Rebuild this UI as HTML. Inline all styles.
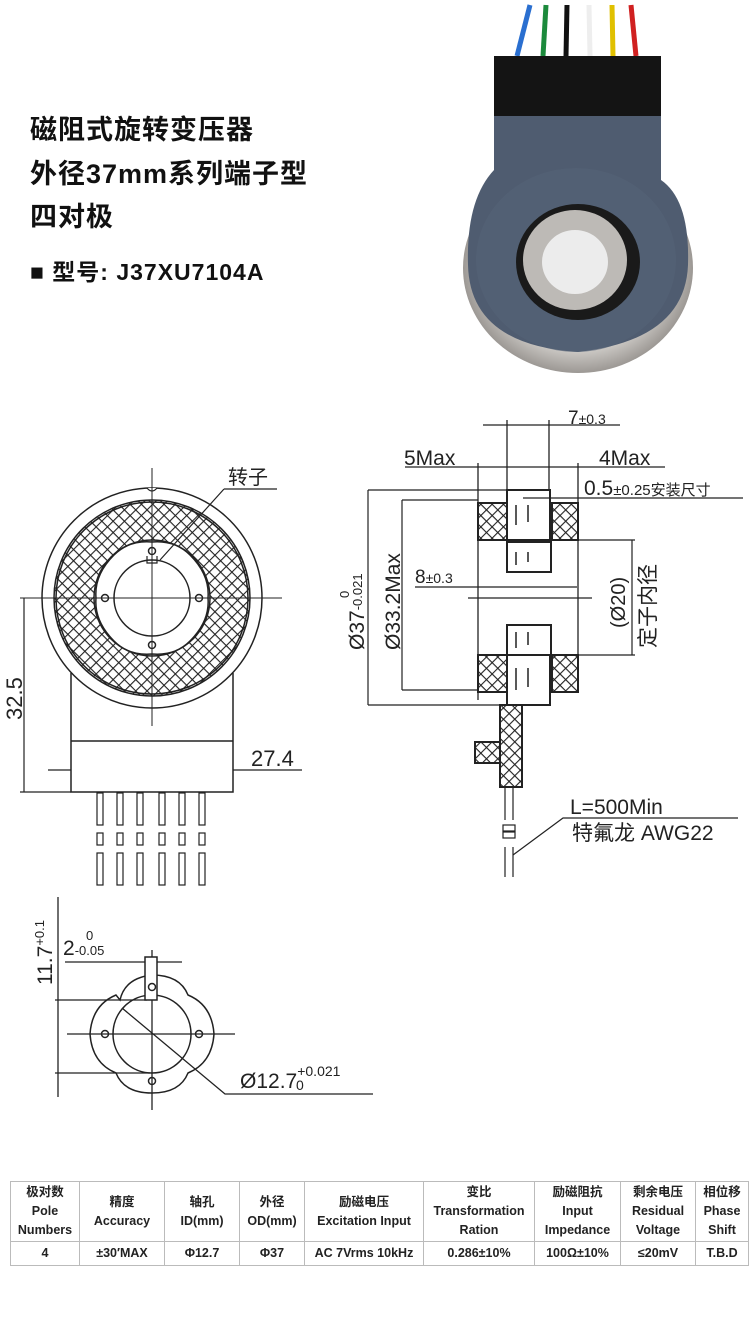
<!DOCTYPE html>
<html><head><meta charset="utf-8"><style>
html,body{margin:0;padding:0;background:#fff;}
body{width:750px;height:1332px;position:relative;overflow:hidden;font-family:"Liberation Sans","Noto Sans CJK SC",sans-serif;}
.h{position:absolute;left:30px;font-weight:bold;font-size:27px;color:#111;letter-spacing:1px;}
table{position:absolute;left:10px;top:1181px;border-collapse:collapse;font-size:12.5px;font-weight:bold;color:#222;text-align:center;}
td{border:1px solid #bbb;padding:0 2px;line-height:19px;}
</style></head><body>
<div class="h" style="top:108px">磁阻式旋转变压器</div>
<div class="h" style="top:152px">外径37mm系列端子型</div>
<div class="h" style="top:195px">四对极</div>
<div class="h" style="top:253px;font-size:23px">■ 型号: J37XU7104A</div>

<svg width="750" height="1332" style="position:absolute;left:0;top:0" xmlns="http://www.w3.org/2000/svg">
<defs>
<pattern id="hx" width="8" height="8" patternUnits="userSpaceOnUse" patternTransform="rotate(45)">
<rect width="8" height="8" fill="#fff"/><path d="M0 0H8M0 0V8" stroke="#222" stroke-width="2.2"/></pattern>
<radialGradient id="ring" cx="50%" cy="50%" r="50%"><stop offset="80%" stop-color="#c9c6c2"/><stop offset="100%" stop-color="#9c9894"/></radialGradient>
</defs>
<!-- photo -->
<g>
<path d="M517 56 L530 5" stroke="#2a6fd0" stroke-width="5"/>
<path d="M543 56 L546 5" stroke="#1c8a3c" stroke-width="5"/>
<path d="M566 56 L567 5" stroke="#111" stroke-width="5"/>
<path d="M590 56 L589 5" stroke="#eee" stroke-width="5"/>
<path d="M613 56 L612 5" stroke="#e0c000" stroke-width="5"/>
<path d="M636 56 L631 5" stroke="#d02020" stroke-width="5"/>
<ellipse cx="578" cy="268" rx="115" ry="105" fill="url(#ring)"/>
<path d="M494 115 L661 115 L661 180 Q690 200 688 265 Q685 340 578 352 Q470 345 468 265 Q466 200 494 170 Z" fill="#4f5c70"/>
<ellipse cx="576" cy="260" rx="100" ry="92" fill="#556276" opacity="0.6"/>
<rect x="494" y="56" width="167" height="60" fill="#141414"/>
<ellipse cx="578" cy="262" rx="62" ry="58" fill="#1a1a1a"/>
<ellipse cx="575" cy="260" rx="52" ry="50" fill="#bdbab6"/>
<ellipse cx="575" cy="262" rx="33" ry="32" fill="#ececec"/>
</g>

<g fill="none" stroke="#222" stroke-width="1.5" font-family="Liberation Sans, Noto Sans CJK SC, sans-serif">
<!-- left drawing -->
<circle cx="152" cy="598" r="110"/>
<circle cx="152" cy="598" r="78" stroke="url(#hx)" stroke-width="40"/>
<circle cx="152" cy="598" r="98"/>
<circle cx="152" cy="598" r="96"/>
<circle cx="152" cy="598" r="58"/>
<path d="M147 488 Q152 494 157 488" stroke-width="1.2" fill="#fff"/>
<path d="M152 542 Q175 540 190 555 Q210 575 208 598 Q210 621 190 641 Q175 656 152 654 Q129 656 114 641 Q94 621 96 598 Q94 575 114 555 Q129 540 152 542Z" fill="#fff"/>
<path d="M147 556V563H157V556" stroke-width="1.2"/>
<circle cx="152" cy="598" r="38"/>
<circle cx="105" cy="598" r="3.5"/><circle cx="199" cy="598" r="3.5"/>
<circle cx="152" cy="551" r="3.5"/><circle cx="152" cy="645" r="3.5"/>
<path d="M20 598H282M152 468V726" stroke-width="1"/>
<path d="M71 673V792H233V673M71 741H233" />
<path d="M48 770H71M233 770H302" stroke-width="1.2"/>
<path d="M24 598V792M20 792H71" stroke-width="1.2"/>
<path d="M224 489H277M224 489L160 560" stroke-width="1.2"/>
<text x="228" y="484" fill="#222" stroke="none" font-size="20">转子</text>
<text x="251" y="766" fill="#222" stroke="none" font-size="22">27.4</text>
<text transform="translate(22,720) rotate(-90)" fill="#222" stroke="none" font-size="22">32.5</text>
<g stroke-width="1.2">
<rect x="97" y="793" width="6" height="32"/><rect x="117" y="793" width="6" height="32"/><rect x="137" y="793" width="6" height="32"/><rect x="159" y="793" width="6" height="32"/><rect x="179" y="793" width="6" height="32"/><rect x="199" y="793" width="6" height="32"/>
<rect x="97" y="833" width="6" height="12"/><rect x="117" y="833" width="6" height="12"/><rect x="137" y="833" width="6" height="12"/><rect x="159" y="833" width="6" height="12"/><rect x="179" y="833" width="6" height="12"/><rect x="199" y="833" width="6" height="12"/>
<rect x="97" y="853" width="6" height="32"/><rect x="117" y="853" width="6" height="32"/><rect x="137" y="853" width="6" height="32"/><rect x="159" y="853" width="6" height="32"/><rect x="179" y="853" width="6" height="32"/><rect x="199" y="853" width="6" height="32"/>
</g>

<!-- right drawing -->
<rect x="478" y="503" width="29" height="37" fill="url(#hx)" stroke-width="2"/>
<rect x="552" y="503" width="26" height="37" fill="url(#hx)" stroke-width="2"/>
<rect x="478" y="655" width="29" height="37" fill="url(#hx)" stroke-width="2"/>
<rect x="552" y="655" width="26" height="37" fill="url(#hx)" stroke-width="2"/>
<rect x="507" y="490" width="43" height="50" stroke-width="2"/>
<rect x="507" y="542" width="44" height="30" stroke-width="2"/>
<rect x="507" y="625" width="44" height="30" stroke-width="2"/>
<rect x="507" y="655" width="43" height="50" stroke-width="2"/>
<path d="M516 505V525M528 505V522M516 552V565M528 552V562M516 632V648M528 632V645M516 668V690M528 668V687" stroke-width="1.5"/>
<path d="M478 463V700M578 463V692M507 420V490M549 420V490" stroke-width="1.3"/>
<path d="M483 425H620M405 467H665M523 498H743M368 490H507M368 705H507M402 500H478M402 690H478M415 587H577M468 598H592M578 540H635M578 655H635" stroke-width="1.2"/>
<path d="M368 490V705M402 500V690M632 540V655" stroke-width="1.2"/>
<path d="M500 705V787H522V705ZM475 742H500V763H475Z" fill="url(#hx)" stroke-width="2"/>
<path d="M505 788V820M513 788V820M505 847V877M513 847V877" stroke-width="1.2"/>
<rect x="503" y="825" width="12" height="6" stroke-width="1.2"/><rect x="503" y="832" width="12" height="6" stroke-width="1.2"/>
<path d="M738 818H563L513 855" stroke-width="1.2"/>
<g fill="#222" stroke="none">
<text x="568" y="424" font-size="19">7<tspan font-size="14">±0.3</tspan></text>
<text x="404" y="465" font-size="21">5Max</text>
<text x="599" y="465" font-size="21">4Max</text>
<text x="584" y="495" font-size="21">0.5<tspan font-size="15">±0.25安装尺寸</tspan></text>
<text x="415" y="583" font-size="19">8<tspan font-size="14">±0.3</tspan></text>
<text transform="translate(364,650) rotate(-90)" font-size="21">Ø37<tspan font-size="13" dy="-2">-0.021</tspan></text>
<text transform="translate(349,598) rotate(-90)" font-size="13">0</text>
<text transform="translate(400,650) rotate(-90)" font-size="21">Ø33.2Max</text>
<text transform="translate(625,628) rotate(-90)" font-size="20">(Ø20)</text>
<text transform="translate(655,648) rotate(-90)" font-size="21">定子内径</text>
<text x="570" y="814" font-size="21">L=500Min</text>
<text x="572" y="840" font-size="21">特氟龙 AWG22</text>
</g>

<!-- bottom-left -->
<path d="M58 897V1097M55 1000H147M55 1073H150M65 962H182M67 1034H235M152 950V1110" stroke-width="1.3"/>
<path d="M120 1000 Q125 978 152 975 Q180 975 188 995 Q212 1005 214 1034 Q212 1063 188 1073 Q180 1093 152 1093 Q124 1093 116 1073 Q92 1063 90 1034 Q92 1005 116 995 Z" stroke-width="1.5"/>
<circle cx="152" cy="1034" r="39"/>
<rect x="145" y="957" width="12" height="43" fill="#fff"/>
<circle cx="105" cy="1034" r="3.5"/><circle cx="199" cy="1034" r="3.5"/>
<circle cx="152" cy="987" r="3.5"/><circle cx="152" cy="1081" r="3.5"/>
<path d="M122 1008L225 1094H373" stroke-width="1.3"/>
<g fill="#222" stroke="none">
<text transform="translate(52,985) rotate(-90)" font-size="21">11.7<tspan font-size="13" dy="-8">+0.1</tspan></text>
<text x="63" y="955" font-size="21">2<tspan font-size="13">-0.05</tspan></text>
<text x="86" y="940" font-size="13">0</text>
<text x="240" y="1088" font-size="21">Ø12.7<tspan font-size="14" dy="-12">+0.021</tspan></text>
<text x="296" y="1090" font-size="14">0</text>
</g>
</g>
</svg>

<table>
<tr style="height:60px"><td style="width:64px">极对数<br>Pole<br>Numbers</td><td style="width:80px">精度<br>Accuracy</td><td style="width:70px">轴孔<br>ID(mm)</td><td style="width:60px">外径<br>OD(mm)</td><td style="width:114px">励磁电压<br>Excitation Input</td><td style="width:106px">变比<br>Transformation<br>Ration</td><td style="width:81px">励磁阻抗<br>Input<br>Impedance</td><td style="width:70px">剩余电压<br>Residual<br>Voltage</td><td style="width:48px">相位移<br>Phase<br>Shift</td></tr>
<tr style="height:24px"><td>4</td><td>±30′MAX</td><td>Φ12.7</td><td>Φ37</td><td>AC 7Vrms 10kHz</td><td>0.286±10%</td><td>100Ω±10%</td><td>≤20mV</td><td>T.B.D</td></tr>
</table>
</body></html>
